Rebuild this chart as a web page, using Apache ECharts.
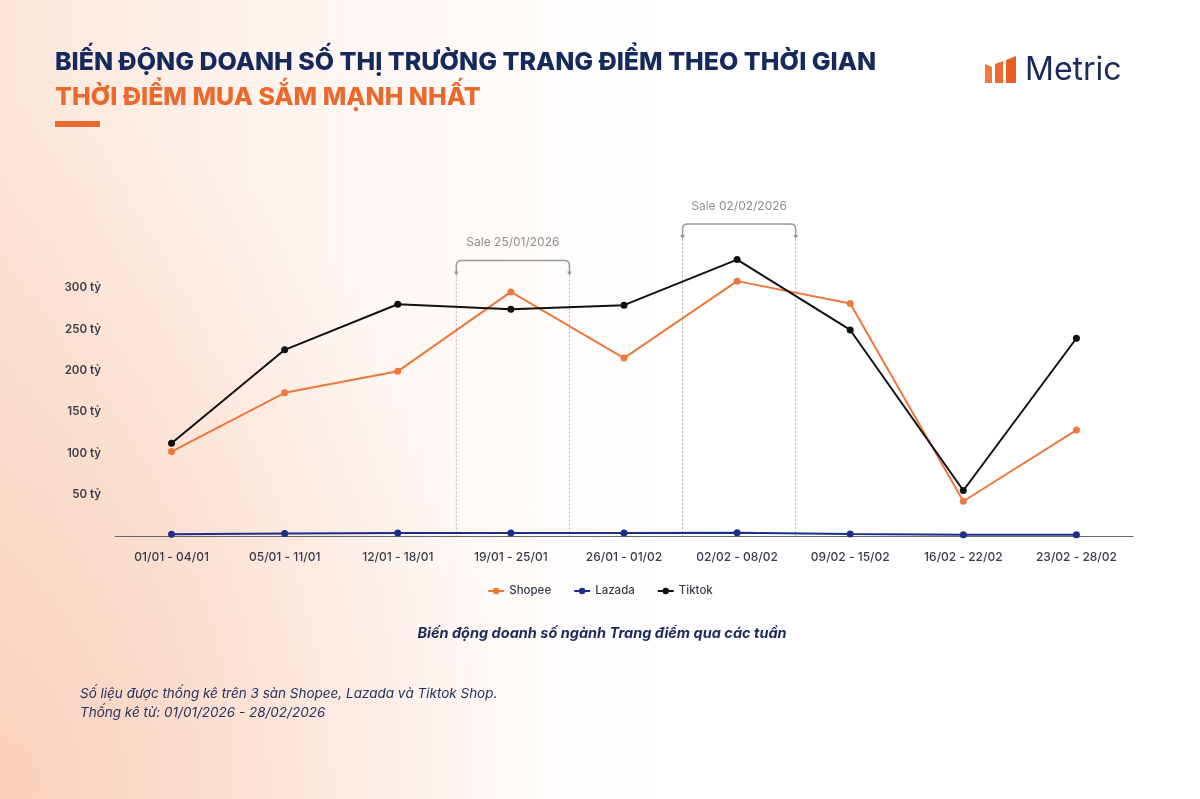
<!DOCTYPE html>
<html>
<head>
<meta charset="utf-8">
<script src="https://cdn.jsdelivr.net/npm/echarts@6/dist/echarts.min.js"></script>
<style>
  html, body { margin: 0; padding: 0; }
  body {
    width: 1200px; height: 799px; overflow: hidden;
    background:
      radial-gradient(ellipse 520px 700px at 0% 100%, rgba(248, 200, 176, 0.75), rgba(255,255,255,0) 100%),
      linear-gradient(90deg, #fce6da 0%, #fef5f0 25%, #ffffff 55%);
  }
  #chart { width: 1200px; height: 799px; }
</style>
</head>
<body>
<div id="chart"></div>
<script>
// Dữ liệu doanh số theo tuần (tỷ đồng)
var weeks = ['01/01 - 04/01', '05/01 - 11/01', '12/01 - 18/01', '19/01 - 25/01', '26/01 - 01/02',
             '02/02 - 08/02', '09/02 - 15/02', '16/02 - 22/02', '23/02 - 28/02']
var shopee = [102, 173, 199, 295, 215, 308, 281, 42, 128]
var lazada = [2, 3, 3.5, 3.5, 3.5, 4, 2.5, 1.5, 1.5]
var tiktok = [112, 225, 280, 274, 279, 334, 249, 55, 239]
var yTicks = [50, 100, 150, 200, 250, 300]
// Các đợt sale: [tuần, mức đỉnh ngoặc, nhãn]
var sales = [
  [3, 333, 'Sale 25/01/2026'],
  [5, 377, 'Sale 02/02/2026']
]

var myChart = echarts.init(document.getElementById('chart'))

function bracketItem(params, api) {
  var idx = api.value(0)
  var top = api.coord([idx, api.value(1)])
  var base = api.coord([idx, 0])
  var bw = api.size([1, 0])[0]
  var l = top[0] - bw / 2 + 2, r = top[0] + bw / 2 + 2, t = top[1]
  var arm = 12, rad = 5
  var c = '#9a9a9a'
  return {
    type: 'group',
    children: [
      {
        type: 'path',
        shape: {
          pathData: 'M' + l + ' ' + (t + arm) + ' L' + l + ' ' + (t + rad) +
            ' Q' + l + ' ' + t + ' ' + (l + rad) + ' ' + t +
            ' L' + (r - rad) + ' ' + t +
            ' Q' + r + ' ' + t + ' ' + r + ' ' + (t + rad) +
            ' L' + r + ' ' + (t + arm)
        },
        style: { fill: null, stroke: c, lineWidth: 1.5 }
      },
      { type: 'polygon', shape: { points: [[l - 2.5, t + arm - 1], [l + 2.5, t + arm - 1], [l, t + arm + 3]] }, style: { fill: c } },
      { type: 'polygon', shape: { points: [[r - 2.5, t + arm - 1], [r + 2.5, t + arm - 1], [r, t + arm + 3]] }, style: { fill: c } },
      { type: 'line', shape: { x1: l, y1: t + arm + 3, x2: l, y2: base[1] }, style: { stroke: '#b5b5b5', lineWidth: 1, lineDash: [2, 2] } },
      { type: 'line', shape: { x1: r, y1: t + arm + 3, x2: r, y2: base[1] }, style: { stroke: '#b5b5b5', lineWidth: 1, lineDash: [2, 2] } },
      {
        type: 'text',
        style: {
          text: api.value(2), x: top[0] + 2, y: t - 18,
          align: 'center', verticalAlign: 'middle',
          fill: '#8f8f8f', fontSize: 12, fontFamily: 'Inter'
        }
      }
    ]
  }
}

myChart.setOption({
  textStyle: { fontFamily: 'Inter' },
  animation: false,
  title: [
    {
      text: 'BIẾN ĐỘNG DOANH SỐ THỊ TRƯỜNG TRANG ĐIỂM THEO THỜI GIAN',
      left: 50, top: 45,
      textStyle: { color: '#152a5c', fontSize: 25, fontWeight: 800, fontFamily: 'Inter' }
    },
    {
      text: 'THỜI ĐIỂM MUA SẮM MẠNH NHẤT',
      left: 50, top: 80,
      textStyle: { color: '#ea6a2d', fontSize: 25, fontWeight: 800, fontFamily: 'Inter' }
    },
    {
      text: 'Biến động doanh số ngành Trang điểm qua các tuần',
      left: 597, top: 621, textAlign: 'center',
      textStyle: { color: '#1d2a5c', fontSize: 14.5, fontWeight: 700, fontStyle: 'italic', fontFamily: 'Inter' }
    },
    {
      text: 'Số liệu được thống kê trên 3 sàn Shopee, Lazada và Tiktok Shop.\nThống kê từ: 01/01/2026 - 28/02/2026',
      left: 75, top: 679,
      textStyle: { color: '#26315e', fontSize: 13.5, fontWeight: 400, fontStyle: 'italic', lineHeight: 19, fontFamily: 'Inter' }
    }
  ],
  graphic: [
    { type: 'rect', shape: { x: 55, y: 121, width: 45, height: 6 }, style: { fill: '#ea6a2d' } },
    // logo Metric
    { type: 'polygon', shape: { points: [[985, 64], [992, 67], [992, 83], [985, 83]] }, style: { fill: '#f07a3a' } },
    { type: 'polygon', shape: { points: [[995, 64], [1003, 61], [1003, 83], [995, 83]] }, style: { fill: '#ec6a2c' } },
    { type: 'polygon', shape: { points: [[1006, 60], [1016, 56], [1016, 83], [1006, 83]] }, style: { fill: '#e85f22' } },
    {
      type: 'text', left: 1025, top: 54,
      style: { text: 'Metric', fill: '#1b2a5e', fontSize: 32, fontWeight: 400, fontFamily: 'Inter' }
    }
  ],
  legend: {
    data: ['Shopee', 'Lazada', 'Tiktok'],
    top: 580, left: 'center',
    itemWidth: 16, itemHeight: 8, itemGap: 22,
    textStyle: { color: '#3a3a48', fontSize: 11.5, fontWeight: 500 }
  },
  grid: { left: 115, right: 67, top: 205, bottom: 263 },
  xAxis: {
    type: 'category',
    data: weeks,
    boundaryGap: true,
    axisLine: { lineStyle: { color: '#666', width: 1 } },
    axisTick: { show: false },
    axisLabel: { color: '#3a3a48', fontSize: 12, fontWeight: 500, margin: 15 }
  },
  yAxis: {
    type: 'value',
    min: 0, max: 400, interval: 50,
    splitLine: { show: false },
    axisLine: { show: false },
    axisTick: { show: false },
    axisLabel: {
      color: '#3a3a48', fontSize: 11.5, fontWeight: 600, margin: 14,
      formatter: function (v) { return yTicks.indexOf(v) >= 0 ? v + ' tỷ' : '' }
    }
  },
  series: [
    {
      name: 'Shopee', type: 'line', data: shopee,
      color: '#ee773a', symbol: 'circle', symbolSize: 7,
      lineStyle: { width: 2 }, clip: false, z: 3
    },
    {
      name: 'Lazada', type: 'line', data: lazada,
      color: '#1c2d8a', symbol: 'circle', symbolSize: 7,
      lineStyle: { width: 2 }, clip: false, z: 3
    },
    {
      name: 'Tiktok', type: 'line', data: tiktok,
      color: '#111111', symbol: 'circle', symbolSize: 7,
      lineStyle: { width: 2 }, clip: false, z: 4
    },
    {
      type: 'custom', name: 'sale', data: sales,
      renderItem: bracketItem, clip: false, silent: true, z: 1
    }
  ]
})
</script>
</body>
</html>
